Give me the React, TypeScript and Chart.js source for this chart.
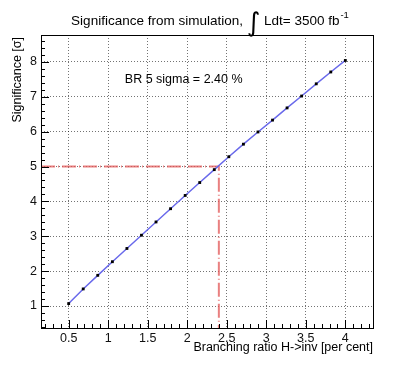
import React, { useEffect, useRef } from "react";
import { Chart, registerables } from "chart.js";

Chart.register(...registerables);

// ---- data ----
const branchingRatio = [0.5, 0.684, 0.868, 1.053, 1.237, 1.421, 1.605, 1.789, 1.974, 2.158, 2.342, 2.526, 2.711, 2.895, 3.079, 3.263, 3.447, 3.632, 3.816, 4.0];
const significance = [1.07, 1.49, 1.88, 2.27, 2.65, 3.03, 3.41, 3.79, 4.17, 4.54, 4.91, 5.28, 5.64, 5.99, 6.33, 6.68, 7.02, 7.37, 7.71, 8.04];
const xTickValues = [0.5, 1, 1.5, 2, 2.5, 3, 3.5, 4];
const xTickLabels = ["0.5", "1", "1.5", "2", "2.5", "3", "3.5", "4"];
const yTickValues = [1, 2, 3, 4, 5, 6, 7, 8];
const yTickLabels = ["1", "2", "3", "4", "5", "6", "7", "8"];
const br5Sigma = 2.4;
const fiveSigma = 5;
const xRange = [0.15, 4.35];
const yRange = [0.37, 8.77];
const annotationText = "BR 5 sigma = 2.40 %";
const annotationPos = [1.21, 7.48];

const FONT = '"Liberation Sans", Arial, Helvetica, sans-serif';

const rootPlugin = {
  id: "rootStyle",
  afterDatasetsDraw(chart: any) {
    const { ctx, chartArea: a, scales } = chart;
    const xs = scales.x;
    const ys = scales.y;
    ctx.save();
    ctx.strokeStyle = "#000";
    ctx.lineWidth = 1;
    ctx.setLineDash([]);
    ctx.beginPath();
    for (let i = 2; i <= 43; i++) {
      const v = i / 10;
      const px = Math.round(xs.getPixelForValue(v)) + 0.5;
      const len = i % 5 === 0 ? 8 : 4;
      ctx.moveTo(px, a.bottom);
      ctx.lineTo(px, a.bottom - len);
    }
    for (let i = 2; i <= 43; i++) {
      const v = i / 5;
      const py = Math.round(ys.getPixelForValue(v)) + 0.5;
      const len = i % 5 === 0 ? 8 : 4;
      ctx.moveTo(a.left, py);
      ctx.lineTo(a.left + len, py);
    }
    ctx.stroke();
    ctx.strokeRect(Math.round(a.left) + 0.5, Math.round(a.top) + 0.5, Math.round(a.right - a.left), Math.round(a.bottom - a.top));
    ctx.restore();
  },
  afterDraw(chart: any) {
    const { ctx, chartArea: a, scales } = chart;
    ctx.save();
    ctx.fillStyle = "#000";
    const tSize = 13.5;
    const p1 = "Significance from simulation, ";
    const p2 = "\u222B";
    const p3 = " Ldt= 3500 fb";
    const p4 = "-1";
    ctx.font = `${tSize}px ${FONT}`;
    const w1 = ctx.measureText(p1).width;
    const w3 = ctx.measureText(p3).width;
    ctx.font = `26px "DejaVu Sans"`;
    const w2 = ctx.measureText(p2).width;
    ctx.font = `9.5px ${FONT}`;
    const w4 = ctx.measureText(p4).width;
    const total = w1 + w2 + w3 + w4;
    let x = 209.5 - total / 2;
    const base = 25;
    ctx.textBaseline = "alphabetic";
    ctx.textAlign = "left";
    ctx.font = `${tSize}px ${FONT}`;
    ctx.fillText(p1, x, base);
    x += w1;
    ctx.font = `26px "DejaVu Sans"`;
    ctx.fillText(p2, x, base + 6);
    x += w2;
    ctx.font = `${tSize}px ${FONT}`;
    ctx.fillText(p3, x, base);
    x += w3;
    ctx.font = `9.5px ${FONT}`;
    ctx.fillText(p4, x + 1, base - 7);

    ctx.font = `12.5px ${FONT}`;
    ctx.textAlign = "right";
    ctx.textBaseline = "middle";
    ctx.fillText("Branching ratio H->inv [per cent]", a.right, 348);
    ctx.save();
    ctx.translate(18, a.top + 2);
    ctx.rotate(-Math.PI / 2);
    ctx.fillText("Significance [\u03C3]", 0, 0);
    ctx.restore();

    ctx.font = `12.5px ${FONT}`;
    ctx.textAlign = "left";
    ctx.textBaseline = "middle";
    ctx.fillText(annotationText, scales.x.getPixelForValue(annotationPos[0]), scales.y.getPixelForValue(annotationPos[1]));
    ctx.restore();
  },
};

export default function App() {
  const ref = useRef<HTMLCanvasElement>(null);
  useEffect(() => {
    document.body.style.margin = "0";
    const curve = branchingRatio.map((x, i) => ({ x, y: significance[i] }));
    const guide = [
      { x: xRange[0], y: fiveSigma },
      { x: br5Sigma, y: fiveSigma },
      { x: br5Sigma, y: yRange[0] },
    ];
    const tickFont = { family: FONT, size: 12.5 };
    const chart = new Chart(ref.current!, {
      type: "line",
      data: {
        datasets: [
          {
            data: guide,
            borderColor: "rgba(225,85,85,0.75)",
            borderWidth: 2,
            borderDash: [14, 3, 1, 3],
            pointRadius: 0,
            fill: false,
            tension: 0,
            order: 2,
          },
          {
            data: curve,
            borderColor: "rgb(105,105,235)",
            borderWidth: 1.5,
            pointStyle: "rect",
            pointRadius: 2,
            pointBackgroundColor: "#000",
            pointBorderColor: "#000",
            pointBorderWidth: 0,
            fill: false,
            tension: 0,
            order: 1,
          },
        ],
      },
      options: {
        animation: false,
        responsive: false,
        devicePixelRatio: 1,
        layout: { padding: { left: 0, right: 42, top: 35, bottom: 0 } },
        plugins: {
          legend: { display: false },
          tooltip: { enabled: false },
          title: { display: false },
        },
        scales: {
          x: {
            type: "linear",
            min: xRange[0],
            max: xRange[1],
            afterBuildTicks: (s: any) => {
              s.ticks = xTickValues.map((v) => ({ value: v }));
            },
            afterFit: (s: any) => {
              s.height = 37;
            },
            ticks: {
              callback: (_v: any, i: number) => xTickLabels[i],
              font: tickFont,
              color: "#111",
              padding: 3,
              maxRotation: 0,
              autoSkip: false,
            },
            grid: { color: "rgba(0,0,0,0.55)", lineWidth: 1, drawTicks: false },
            border: { display: false, dash: [1, 2] },
          },
          y: {
            type: "linear",
            min: yRange[0],
            max: yRange[1],
            afterBuildTicks: (s: any) => {
              s.ticks = yTickValues.map((v) => ({ value: v }));
            },
            afterFit: (s: any) => {
              s.width = 41;
            },
            ticks: {
              callback: (_v: any, i: number) => yTickLabels[i],
              font: tickFont,
              color: "#111",
              padding: 4,
              autoSkip: false,
            },
            grid: { color: "rgba(0,0,0,0.55)", lineWidth: 1, drawTicks: false },
            border: { display: false, dash: [1, 2] },
          },
        },
      },
      plugins: [rootPlugin],
    } as any);
    return () => chart.destroy();
  }, []);
  return (
    <div style={{ width: 415, height: 365 }}>
      <canvas ref={ref} width={415} height={365} style={{ display: "block" }} />
    </div>
  );
}
